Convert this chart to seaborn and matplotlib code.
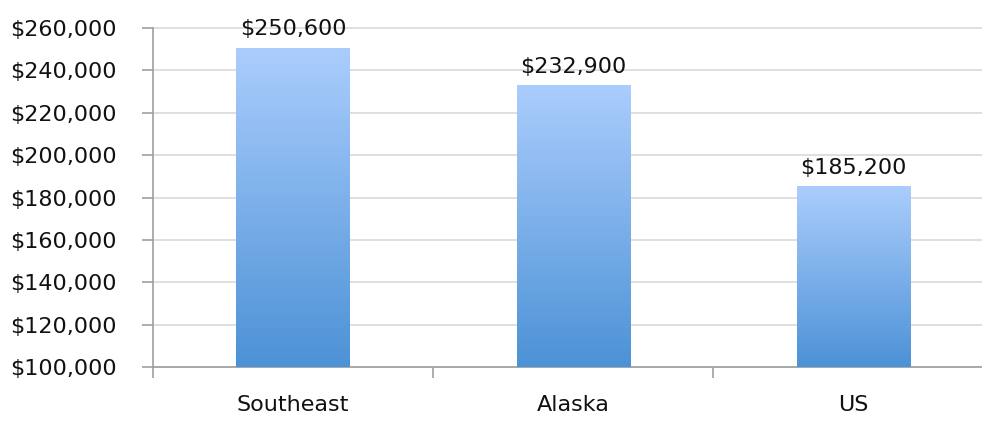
import numpy as np
import pandas as pd
import seaborn as sns
from matplotlib import pyplot as plt
from matplotlib.colors import LinearSegmentedColormap

regions = ['Southeast', 'Alaska', 'US']
values = [250600, 232900, 185200]
value_labels = ['$250,600', '$232,900', '$185,200']
y_ticks = [100000, 120000, 140000, 160000, 180000, 200000, 220000, 240000, 260000]

df = pd.DataFrame({'region': regions, 'value': values})

sns.set_theme(style='white')
plt.rcParams['font.family'] = ['DejaVu Sans']

fig = plt.figure(figsize=(9.82, 4.22), dpi=100)
ax = fig.add_axes([0.1558, 0.1303, 0.8559, 0.8033])

sns.barplot(data=df, x='region', y='value', width=0.404, color='#6aa5e3', ax=ax, zorder=2)

# gradient fill on each bar
cmap = LinearSegmentedColormap.from_list('grad', ['#4c92d6', '#abcdfd'])
grad = np.linspace(0, 1, 256).reshape(-1, 1)
for patch in ax.patches:
    x0, y0 = patch.get_x(), patch.get_y()
    w, h = patch.get_width(), patch.get_height()
    ylo = max(y0, 100000)
    im = ax.imshow(grad, cmap=cmap, aspect='auto', origin='lower',
                   extent=[x0, x0 + w, ylo, y0 + h], zorder=3)
    im.set_clip_path(patch)
    patch.set_edgecolor('none')
ax.set_xlim(-0.5, 2.5)
ax.set_ylim(100000, 260000)

for i, (v, lab) in enumerate(zip(values, value_labels)):
    ax.text(i, v + 4200, lab, ha='center', va='bottom', fontsize=16, color='#111111')

ax.set_yticks(y_ticks)
ax.set_yticklabels(['${:,}'.format(t) for t in y_ticks], fontsize=16, color='#111111')
ax.yaxis.grid(True, color='#d9d9d9', linewidth=1.2, zorder=0)
for gl in ax.get_ygridlines():
    gl.set_clip_on(False)
ax.set_axisbelow(True)

ax.set_xticks([0, 1, 2])
ax.set_xticklabels(regions, fontsize=16, color='#111111')
ax.set_xticks([-0.5, 0.5, 1.5, 2.5], minor=True)
ax.tick_params(axis='x', which='major', length=0, pad=20, bottom=True)
ax.tick_params(axis='x', which='minor', length=8, width=1.2, color='#a0a0a0',
               direction='out', bottom=True)
ax.tick_params(axis='y', length=8, width=1.2, color='#a0a0a0', direction='out', left=True, pad=18)
ax.set_xlabel('')
ax.set_ylabel('')

for s in ['top', 'right']:
    ax.spines[s].set_visible(False)
for s in ['left', 'bottom']:
    ax.spines[s].set_color('#a0a0a0')
    ax.spines[s].set_linewidth(1.2)

fig.savefig('out.png', dpi=100)
